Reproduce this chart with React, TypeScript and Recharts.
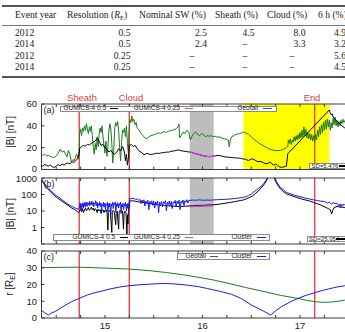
import React from "react";
import { LineChart, Line, XAxis, YAxis, ReferenceLine, ReferenceArea } from "recharts";

type Pt = [number, number];

// ---- table ----
const tableHeaders = ["Event year", "Resolution", "Nominal SW (%)", "Sheath (%)", "Cloud (%)", "6 h (%)"];
const eventYears = ["2012", "2014", "2012", "2014"];
const resolutions = ["0.5", "0.5", "0.25", "0.25"];
const nominalSW = ["2.5", "2.4", null, null];
const sheathErr = ["4.5", null, null, null];
const cloudErr = ["8.0", "3.3", null, null];
const sixHourErr = ["4.9", "3.2", "5.6", "4.5"];

// ---- time axis (days) ----
const xDomain: [number, number] = [14.349, 17.605];
const xTicks = [14.5, 14.75, 15, 15.25, 15.5, 15.75, 16, 16.25, 16.5, 16.75, 17, 17.25, 17.5];
const eventTimes = [14.736, 15.249, 17.151];
const eventLabels = ["Sheath", "Cloud", "End"];
const graySpan: [number, number] = [15.87, 16.115];
const yellowSpan: [number, number] = [16.42, 17.3];

// ---- panel (a): |B| Geotail vs GUMICS ----
const geotailA: Pt[] = [
  [14.34, 13.5], [14.36, 13], [14.38, 14], [14.4, 12.5], [14.42, 13], [14.44, 12], [14.46, 11.5], [14.48, 11],
  [14.5, 12.5], [14.52, 15], [14.54, 18.5], [14.56, 16], [14.58, 17], [14.6, 13], [14.61, 11.4], [14.625, 17.5],
  [14.64, 14], [14.655, 7], [14.67, 9], [14.685, 8], [14.7, 12], [14.71, 14], [14.725, 10], [14.735, 15],
  [14.74, 33], [14.75, 37], [14.76, 31], [14.77, 38], [14.78, 35], [14.79, 40], [14.8, 36], [14.81, 42],
  [14.82, 37], [14.83, 33], [14.84, 39], [14.85, 35], [14.86, 40], [14.87, 31], [14.88, 20], [14.89, 14],
  [14.9, 24], [14.91, 18], [14.92, 30], [14.93, 21], [14.94, 32], [14.95, 38], [14.96, 34], [14.97, 40],
  [14.98, 30], [14.99, 22], [15.0, 15], [15.01, 26], [15.02, 12], [15.03, 20], [15.04, 35], [15.05, 42],
  [15.06, 37], [15.07, 24], [15.08, 6], [15.09, 18], [15.1, 38], [15.11, 43], [15.12, 40], [15.13, 44],
  [15.14, 36], [15.15, 20], [15.16, 8], [15.17, 25], [15.18, 36], [15.19, 34], [15.2, 38], [15.21, 30],
  [15.22, 40], [15.23, 24], [15.24, 15], [15.245, 32], [15.255, 46], [15.265, 43], [15.275, 49], [15.285, 44],
  [15.295, 46], [15.31, 41], [15.32, 43], [15.33, 38], [15.35, 36], [15.37, 33], [15.39, 31], [15.41, 29],
  [15.43, 28], [15.45, 30], [15.47, 31], [15.49, 31.5], [15.51, 32], [15.53, 33], [15.55, 33.5], [15.57, 33],
  [15.59, 34], [15.61, 34.5], [15.63, 34], [15.65, 35], [15.67, 35.5], [15.69, 36], [15.71, 36.5], [15.73, 37.5],
  [15.75, 39], [15.76, 41.5], [15.765, 29], [15.78, 31], [15.8, 34], [15.82, 33], [15.84, 36], [15.86, 34],
  [15.875, 27], [15.89, 30], [15.91, 33], [15.93, 34.5], [15.95, 32], [15.97, 31], [15.99, 33], [16.01, 32],
  [16.03, 30], [16.05, 31], [16.07, 30.5], [16.09, 31], [16.11, 30], [16.13, 30.5], [16.15, 29.5], [16.17, 30],
  [16.19, 29], [16.21, 28.5], [16.23, 28], [16.25, 27.5], [16.265, 27], [16.275, 20.6], [16.285, 27], [16.3, 30],
  [16.32, 31], [16.34, 32], [16.36, 32.5], [16.38, 33], [16.4, 33.5], [16.42, 34.5], [16.44, 33.5], [16.47, 32.5],
  [16.5, 30], [16.53, 27.5], [16.56, 25.5], [16.59, 23.5], [16.62, 22], [16.65, 20.5], [16.68, 19], [16.71, 18],
  [16.74, 17.5], [16.77, 17.3], [16.8, 17.5], [16.83, 18.5], [16.86, 20], [16.875, 21], [16.88, 27], [16.89, 24],
  [16.9, 28], [16.91, 23], [16.92, 27], [16.93, 25], [16.94, 30], [16.95, 26], [16.96, 31], [16.97, 27],
  [16.98, 32], [16.99, 28], [17.0, 34], [17.01, 29], [17.02, 36], [17.03, 30], [17.04, 39], [17.05, 31],
  [17.06, 37], [17.07, 29], [17.08, 34], [17.09, 28], [17.1, 33], [17.11, 27], [17.12, 32], [17.13, 26],
  [17.14, 31], [17.15, 25], [17.16, 32], [17.17, 27], [17.18, 36], [17.19, 30], [17.2, 39], [17.21, 32],
  [17.22, 41], [17.23, 34], [17.24, 43], [17.25, 36], [17.26, 45], [17.27, 37], [17.28, 46], [17.29, 39],
  [17.3, 45], [17.31, 36], [17.32, 43], [17.33, 38], [17.34, 47], [17.35, 41], [17.36, 48], [17.37, 40],
  [17.38, 45], [17.39, 39], [17.4, 44], [17.41, 40], [17.42, 45], [17.43, 42], [17.44, 46], [17.45, 43], [17.46, 45],
];

const gumics05A: Pt[] = [
  [14.34, 2], [14.36, 3], [14.38, 4.5], [14.4, 4], [14.42, 3], [14.44, 4], [14.46, 2.5], [14.48, 2], [14.5, 3],
  [14.52, 4.5], [14.54, 3.5], [14.56, 5], [14.58, 4], [14.6, 5.5], [14.62, 6], [14.64, 5], [14.66, 7], [14.68, 6.5],
  [14.7, 8], [14.72, 10], [14.73, 12], [14.74, 19], [14.76, 21], [14.78, 22], [14.8, 21.5], [14.82, 23], [14.84, 22.5],
  [14.86, 24], [14.88, 25], [14.9, 26], [14.92, 28.5], [14.94, 26], [14.96, 22], [14.98, 23], [15.0, 20], [15.02, 18.5],
  [15.04, 16], [15.06, 17.5], [15.08, 15], [15.1, 14], [15.12, 16], [15.14, 19], [15.16, 17], [15.18, 21], [15.2, 16],
  [15.21, 8], [15.22, 14], [15.23, 4], [15.24, 10], [15.25, 22], [15.27, 23], [15.29, 21], [15.31, 22], [15.33, 19],
  [15.35, 17], [15.37, 16], [15.39, 14], [15.41, 13.5], [15.43, 15], [15.45, 14], [15.47, 13.8], [15.49, 14], [15.51, 14.5],
  [15.53, 15], [15.55, 14.7], [15.57, 15], [15.59, 15.5], [15.61, 15.5], [15.63, 16], [15.65, 15.8], [15.67, 16.5],
  [15.69, 16.8], [15.71, 17], [15.73, 17.5], [15.75, 18], [15.77, 17.5], [15.79, 17], [15.81, 16.8], [15.83, 16.5],
  [15.85, 16.2], [15.87, 16], [15.89, 15.5], [15.91, 15], [15.93, 14.5], [15.95, 14], [15.97, 13.5], [15.99, 13],
  [16.01, 12.5], [16.03, 12.2], [16.05, 12], [16.07, 11.8], [16.09, 12], [16.11, 12.2], [16.13, 12.5], [16.15, 13],
  [16.17, 12.8], [16.19, 12.5], [16.21, 12], [16.23, 11.6], [16.25, 11.4], [16.27, 11.2], [16.29, 11], [16.31, 10.8],
  [16.33, 10.8], [16.35, 10.5], [16.37, 10.5], [16.39, 10.2], [16.41, 9.8], [16.43, 9.5], [16.45, 9], [16.47, 8.3],
  [16.49, 9], [16.51, 9.8], [16.53, 9], [16.55, 8], [16.57, 7], [16.59, 7.5], [16.61, 6.8], [16.63, 6], [16.65, 5.2],
  [16.67, 5.5], [16.69, 6.8], [16.71, 5.5], [16.73, 4], [16.75, 5], [16.77, 3.7], [16.79, 2.5], [16.81, 2], [16.83, 2.3],
  [16.85, 2.8], [16.86, 3], [16.875, 14.5], [17.3, 54.5], [17.31, 52], [17.32, 50], [17.33, 51], [17.34, 48], [17.35, 47],
  [17.37, 45], [17.39, 43], [17.41, 42], [17.43, 40], [17.46, 38],
];

const gumics025A: Pt[] = [
  [15.87, 16], [15.89, 15.6], [15.91, 15.1], [15.93, 14.6], [15.95, 14.2], [15.97, 13.6], [15.99, 13.2], [16.01, 12.7],
  [16.03, 12.3], [16.05, 12.1], [16.07, 11.7], [16.09, 12], [16.11, 12],
];

// ---- panel (b): |B| Cluster vs GUMICS (log) ----
const clusterB: Pt[] = [
  [14.345, 1000], [14.36, 700], [14.38, 460], [14.4, 330], [14.42, 240], [14.44, 180], [14.46, 140], [14.48, 110],
  [14.5, 88], [14.52, 72], [14.54, 60], [14.56, 48], [14.58, 39], [14.6, 32], [14.62, 26], [14.64, 22], [14.66, 19],
  [14.68, 16.5], [14.7, 14.5], [14.72, 13], [14.73, 12.5],
  [14.74, 20], [14.745, 30], [14.75, 14], [14.755, 28], [14.76, 12], [14.765, 25], [14.77, 18], [14.775, 32], [14.78, 15],
  [14.785, 27], [14.79, 20], [14.795, 34], [14.8, 17], [14.805, 29], [14.81, 22], [14.815, 35], [14.82, 19], [14.83, 30],
  [14.835, 24], [14.84, 38], [14.845, 21], [14.85, 32], [14.86, 25], [14.865, 40], [14.87, 22], [14.88, 33], [14.885, 18],
  [14.89, 30], [14.9, 26], [14.905, 42], [14.91, 20], [14.92, 34], [14.925, 15], [14.93, 28], [14.94, 22], [14.945, 36],
  [14.95, 19], [14.96, 30], [14.965, 8], [14.97, 26], [14.98, 20], [14.985, 35], [14.99, 17], [15.0, 30], [15.005, 12],
  [15.01, 27], [15.02, 22], [15.025, 33], [15.03, 10], [15.04, 28], [15.045, 18], [15.05, 31], [15.06, 6], [15.065, 26],
  [15.07, 20], [15.08, 34], [15.085, 14], [15.09, 29], [15.1, 23], [15.105, 36], [15.11, 9], [15.12, 27], [15.125, 19],
  [15.13, 32], [15.14, 15], [15.145, 28], [15.15, 22], [15.16, 35], [15.165, 7], [15.17, 25], [15.18, 18], [15.185, 30],
  [15.19, 12], [15.2, 27], [15.205, 21], [15.21, 33], [15.22, 10], [15.225, 26], [15.23, 16], [15.235, 29], [15.24, 12],
  [15.245, 24], [15.255, 60], [15.265, 52], [15.275, 63], [15.285, 55], [15.3, 58], [15.315, 48], [15.33, 55], [15.345, 44],
  [15.36, 50], [15.37, 28], [15.38, 46], [15.39, 35], [15.4, 48], [15.41, 20], [15.42, 40], [15.43, 30], [15.44, 45],
  [15.45, 12], [15.46, 38], [15.47, 28], [15.48, 42], [15.49, 22], [15.5, 40], [15.51, 15], [15.52, 35], [15.53, 26],
  [15.54, 40], [15.55, 8], [15.56, 33], [15.57, 24], [15.58, 38], [15.59, 18], [15.6, 36], [15.61, 28], [15.62, 42],
  [15.63, 10], [15.64, 34], [15.65, 25], [15.66, 40], [15.67, 20], [15.68, 38], [15.69, 14], [15.7, 36], [15.71, 30],
  [15.72, 44], [15.73, 18], [15.74, 40], [15.75, 28], [15.76, 45], [15.77, 12], [15.78, 38], [15.79, 30], [15.8, 46],
  [15.81, 22], [15.82, 42], [15.83, 34], [15.84, 48], [15.85, 30], [15.86, 45], [15.87, 44], [15.9, 46], [15.93, 45],
  [15.96, 47], [15.99, 46], [16.02, 45], [16.05, 46], [16.08, 45], [16.11, 47], [16.14, 48], [16.17, 49], [16.2, 50],
  [16.23, 51], [16.26, 52], [16.29, 54], [16.32, 56], [16.35, 59], [16.38, 62], [16.41, 66], [16.44, 72], [16.47, 85],
  [16.5, 105], [16.53, 150], [16.56, 200], [16.59, 280], [16.61, 350], [16.63, 480], [16.65, 720], [16.67, 1100],
  [16.68, 1500], [16.73, 1500], [16.74, 1100], [16.76, 600], [16.78, 380], [16.8, 270], [16.83, 190], [16.86, 135],
  [16.9, 110], [16.94, 92], [16.98, 80], [17.02, 70], [17.06, 60], [17.1, 53], [17.14, 47], [17.18, 43], [17.21, 40],
  [17.24, 38], [17.26, 36], [17.28, 30], [17.3, 34], [17.32, 26], [17.34, 32], [17.36, 28], [17.38, 30], [17.4, 20],
  [17.41, 27], [17.42, 18], [17.43, 25], [17.44, 21], [17.45, 26], [17.46, 22],
];

const gumics05B: Pt[] = [
  [14.345, 900], [14.36, 620], [14.38, 400], [14.4, 280], [14.42, 200], [14.44, 150], [14.46, 115], [14.48, 88],
  [14.5, 70], [14.52, 57], [14.54, 47], [14.56, 39], [14.58, 32], [14.6, 27], [14.62, 22], [14.64, 18], [14.66, 15],
  [14.68, 13], [14.7, 11], [14.72, 9], [14.73, 8],
  [14.74, 10], [14.75, 13], [14.76, 9], [14.77, 14], [14.78, 8], [14.79, 12], [14.8, 15], [14.81, 10], [14.82, 13],
  [14.83, 16], [14.84, 11], [14.85, 14], [14.86, 17], [14.87, 12], [14.88, 15], [14.89, 10], [14.9, 14], [14.91, 12],
  [14.92, 8], [14.93, 13], [14.94, 10], [14.95, 12], [14.96, 7], [14.97, 11], [14.98, 12], [14.99, 8], [15.0, 11],
  [15.01, 9], [15.02, 12], [15.03, 0.7], [15.035, 8], [15.045, 11], [15.055, 9], [15.07, 0.5], [15.075, 8], [15.085, 11],
  [15.095, 9], [15.11, 1.5], [15.115, 8], [15.125, 10], [15.14, 0.8], [15.145, 8], [15.155, 11], [15.165, 9],
  [15.18, 10], [15.19, 0.8], [15.195, 7], [15.205, 10], [15.215, 8], [15.225, 0.35], [15.23, 6], [15.235, 1.6],
  [15.24, 8], [15.245, 12],
  [15.255, 40], [15.28, 42], [15.31, 39], [15.34, 36], [15.37, 34], [15.4, 32], [15.43, 30], [15.46, 28], [15.49, 26],
  [15.52, 24.5], [15.55, 23], [15.58, 22], [15.61, 21.5], [15.64, 21], [15.67, 20], [15.7, 19.5], [15.73, 19],
  [15.76, 18.5], [15.79, 19], [15.82, 19.5], [15.85, 20], [15.88, 20.5], [15.91, 21], [15.94, 21.5], [15.97, 22],
  [16.0, 22], [16.03, 22.5], [16.06, 23], [16.09, 23.5], [16.12, 24], [16.15, 25], [16.18, 26.5], [16.21, 28],
  [16.24, 30], [16.27, 32], [16.3, 34], [16.33, 37], [16.36, 40], [16.39, 43], [16.42, 47], [16.45, 55], [16.48, 65],
  [16.51, 80], [16.54, 110], [16.57, 160], [16.6, 240], [16.62, 330], [16.64, 480], [16.66, 750], [16.675, 1100],
  [16.685, 1500], [16.725, 1500], [16.735, 1100], [16.75, 600], [16.77, 380], [16.8, 215], [16.83, 150], [16.86, 110],
  [16.9, 90], [16.94, 75], [16.98, 63], [17.02, 53], [17.06, 46], [17.1, 40], [17.14, 33], [17.18, 27], [17.22, 22],
  [17.26, 17], [17.29, 14], [17.31, 12], [17.325, 6.6], [17.335, 11], [17.35, 16], [17.38, 19], [17.41, 17],
  [17.44, 17], [17.46, 16],
];

const gumics025B: Pt[] = [
  [15.87, 18.5], [15.9, 18.8], [15.93, 19], [15.96, 19.3], [15.99, 19.4], [16.02, 19.8], [16.05, 20], [16.08, 20.3], [16.11, 20.5],
];

// ---- panel (c): radial distance ----
const geotailR: Pt[] = [
  [14.34, 30.0], [14.5, 30.2], [14.65, 30.3], [14.75, 30.3], [14.9, 30.0], [15.05, 29.7], [15.25, 29.2], [15.45, 28.3],
  [15.62, 27.2], [15.8, 25.8], [15.96, 24.3], [16.12, 22.6], [16.3, 20.2], [16.45, 18.1], [16.64, 15.7], [16.8, 13.5],
  [16.98, 11.7], [17.07, 10.5], [17.15, 9.8], [17.22, 9.4], [17.29, 9.4], [17.37, 9.8], [17.46, 10.7],
];

const clusterR: Pt[] = [
  [14.34, 5.0], [14.38, 3.2], [14.42, 1.8], [14.45, 2.9], [14.49, 3.9], [14.55, 6.1], [14.61, 8.2], [14.67, 10.1],
  [14.74, 11.8], [14.82, 13.8], [14.9, 15.2], [14.95, 15.8], [15.05, 17.3], [15.15, 18.5], [15.25, 19.3], [15.35, 19.8],
  [15.46, 20.2], [15.55, 20.5], [15.62, 20.6], [15.7, 20.4], [15.8, 19.9], [15.9, 19.2], [15.96, 18.7], [16.05, 17.6],
  [16.15, 16.3], [16.22, 15.3], [16.3, 14.1], [16.4, 11.6], [16.5, 7.8], [16.6, 4.9], [16.7, 1.8], [16.75, 4.3],
  [16.81, 6.8], [16.9, 9.6], [16.98, 11.7], [17.06, 13.5], [17.15, 15.1], [17.22, 16.3], [17.29, 17.3], [17.37, 18.4], [17.46, 19.3],
];

const FRAME = "#3a3a3a";
const RED = "#e8363b";
const GREEN = "#1d7a1d";
const BLUE = "#1a1af0";
const MAGENTA = "#d63cd6";
const SANS = "'Liberation Sans', Arial, Helvetica, sans-serif";
const SERIF = "'Liberation Serif', 'Times New Roman', serif";

const pts = (arr: Pt[]) => arr.map(([t, v]) => ({ t, v }));

const bottomTick = (labels: boolean) => (p: any) => {
  const v = p.payload.value;
  return (
    <g>
      <line x1={p.x} x2={p.x} y1={p.y} y2={p.y - 3} stroke={FRAME} />
      {labels && Number.isInteger(v) ? (
        <text x={p.x} y={p.y + 11} textAnchor="middle" fontSize={9.5} fill="#222">
          {v}
        </text>
      ) : null}
    </g>
  );
};

const topTick = (p: any) => (
  <line x1={p.x} x2={p.x} y1={p.y} y2={p.y + 3} stroke={FRAME} />
);

// labels at the panel edges sit a little inward so neighbouring panels do not collide
const leftTick = (hidden: number[], nudge: Record<string, number> = {}) => (p: any) => {
  const v = p.payload.value;
  const dy = nudge[String(v)] || 0;
  return (
    <g>
      <line x1={p.x} x2={p.x + 3} y1={p.y} y2={p.y} stroke={FRAME} />
      {hidden.includes(v) ? null : (
        <text x={p.x - 4.5} y={p.y + 3.4 + dy} textAnchor="end" fontSize={9.5} fill="#222">
          {v}
        </text>
      )}
    </g>
  );
};

const lineProps = { dataKey: "v", dot: false, isAnimationActive: false, strokeWidth: 1, type: "linear" as const };

function axes(
  yTicks: number[],
  yDomain: [number, number],
  log: boolean,
  bottomLabels: boolean,
  hidden: number[] = [],
  nudge: Record<string, number> = {}
) {
  return [
    <XAxis
      key="xb"
      xAxisId="b"
      dataKey="t"
      type="number"
      domain={xDomain}
      allowDataOverflow
      ticks={xTicks}
      interval={0}
      tickLine={false}
      tickSize={0}
      tickMargin={0}
      tick={bottomTick(bottomLabels)}
      axisLine={{ stroke: FRAME }}
      height={bottomLabels ? 16 : 6}
    />,
    <XAxis
      key="xt"
      xAxisId="t"
      orientation="top"
      dataKey="t"
      type="number"
      domain={xDomain}
      allowDataOverflow
      ticks={xTicks}
      interval={0}
      tickLine={false}
      tickSize={0}
      tickMargin={0}
      tick={topTick}
      axisLine={{ stroke: FRAME }}
      height={1}
    />,
    <YAxis
      key="y"
      type="number"
      scale={log ? "log" : "linear"}
      domain={yDomain}
      allowDataOverflow
      ticks={yTicks}
      interval={0}
      tickLine={false}
      tickSize={0}
      tickMargin={0}
      tick={leftTick(hidden, nudge)}
      axisLine={{ stroke: FRAME }}
      width={41.5}
    />,
  ];
}

const eventLines = () =>
  eventTimes.map((t) => (
    <ReferenceLine key={t} xAxisId="b" x={t} stroke={RED} strokeWidth={1.3} />
  ));

const CHART_W = 364;
const MARGIN = { top: 5, right: 5, bottom: 0, left: 0 };

function LegendBox({ left, top, width, height, items }: any) {
  return (
    <div
      style={{
        position: "absolute",
        left,
        top,
        width,
        height,
        border: "1px solid #8a8a8a",
        background: "#fff",
        boxSizing: "border-box",
      }}
    >
      {items.map((it: any) => (
        <React.Fragment key={it.label}>
          <div
            style={{
              position: "absolute",
              right: width - it.textRight + left,
              top: -1.6,
              fontSize: 6.5,
              lineHeight: `${height}px`,
              whiteSpace: "nowrap",
              color: "#222",
            }}
          >
            {it.label}
          </div>
          <div
            style={{
              position: "absolute",
              left: it.lineFrom - left - 1,
              width: it.lineTo - it.lineFrom,
              top: height / 2 - 1.5,
              height: 1,
              background: it.color,
            }}
          />
        </React.Fragment>
      ))}
    </div>
  );
}

function SDBox({ left, top, text }: any) {
  return (
    <div
      style={{
        position: "absolute",
        left,
        top,
        width: 50,
        height: 6.5,
        border: "1px solid #8a8a8a",
        background: "#fff",
        boxSizing: "border-box",
      }}
    >
      <div style={{ position: "absolute", left: 1.5, top: -2, fontSize: 6, lineHeight: "8px", color: "#222", whiteSpace: "nowrap" }}>
        {text}
      </div>
      <div style={{ position: "absolute", left: 28.5, width: 12, top: 1.5, height: 1.5, background: "#000" }} />
    </div>
  );
}

function Table() {
  const headerLeft = [15, 67, 139, 215, 267, 318];
  const rowY = [32.3, 43.7, 55.3, 66.7];
  const cols = [resolutions, nominalSW, sheathErr, cloudErr, sixHourErr];
  const colRight = [130.5, 207, 254.5, 305.5, 346];
  const dashCenter = [130, 192, 245, 292, 340];
  const txt = (extra: any, content: any, key: string) => (
    <div
      key={key}
      style={{ position: "absolute", fontSize: 9.6, lineHeight: "11px", whiteSpace: "nowrap", color: "#222", ...extra }}
    >
      {content}
    </div>
  );
  return (
    <div style={{ position: "absolute", left: 0, top: 0, width: 345, height: 80, fontFamily: SERIF }}>
      <div style={{ position: "absolute", left: 2, right: 0, top: 5.2, height: 1.4, background: "#555" }} />
      <div style={{ position: "absolute", left: 2, right: 0, top: 24.5, height: 0.8, background: "#777" }} />
      <div style={{ position: "absolute", left: 2, right: 0, top: 76.4, height: 1.4, background: "#555" }} />
      {tableHeaders.map((h, i) =>
        txt(
          { left: headerLeft[i], top: 9.2 },
          i === 1 ? (
            <span>
              Resolution (<i>R</i>
              <sub style={{ fontSize: 6.5, verticalAlign: "-1.5px" }}>E</sub>)
            </span>
          ) : (
            h
          ),
          "h" + i
        )
      )}
      {eventYears.map((y, r) => txt({ left: 15, top: rowY[r] - 5.5 }, y, "y" + r))}
      {cols.map((col, c) =>
        col.map((v, r) =>
          v
            ? txt({ right: 345 - colRight[c], top: rowY[r] - 5.5 }, v, `c${c}-${r}`)
            : txt({ left: dashCenter[c] - 2.5, top: rowY[r] - 5.5 }, "\u2013", `d${c}-${r}`)
        )
      )}
    </div>
  );
}

export default function App() {
  const rotated = (x: number, y: number, content: any, key: string) => (
    <div
      key={key}
      style={{
        position: "absolute",
        left: x,
        top: y,
        transform: "translate(-50%, -50%) rotate(-90deg)",
        fontSize: 10,
        whiteSpace: "nowrap",
        color: "#222",
      }}
    >
      {content}
    </div>
  );
  const eventLabelX = [82, 131, 312];
  return (
    <div
      style={{
        position: "absolute",
        left: 0,
        top: 0,
        width: 345,
        height: 332,
        overflow: "hidden",
        background: "#fff",
        fontFamily: SANS,
      }}
    >
      <Table />

      {eventLabels.map((l, i) => (
        <div
          key={l}
          style={{
            position: "absolute",
            left: eventLabelX[i],
            top: 97,
            transform: "translate(-50%, -50%)",
            fontSize: 9.4,
            color: RED,
            whiteSpace: "nowrap",
          }}
        >
          {l}
        </div>
      ))}

      {/* panel (a) */}
      <div style={{ position: "absolute", left: 0, top: 98 }}>
        <LineChart width={CHART_W} height={77.5} margin={MARGIN}>
          {axes([0, 20, 40, 60], [0, 60], false, false, [], { "0": -1 })}
          <ReferenceArea xAxisId="b" x1={yellowSpan[0]} x2={yellowSpan[1]} fill="#ffff00" fillOpacity={1} stroke="none" />
          <ReferenceArea xAxisId="b" x1={graySpan[0]} x2={graySpan[1]} fill="#bdbdbd" fillOpacity={1} stroke="none" />
          {eventLines()}
          <Line xAxisId="b" data={pts(geotailA)} stroke={GREEN} {...lineProps} />
          <Line xAxisId="b" data={pts(gumics05A)} stroke="#000" {...lineProps} />
          <Line xAxisId="b" data={pts(gumics025A)} stroke={MAGENTA} {...lineProps} strokeWidth={1.3} />
        </LineChart>
      </div>

      {/* panel (b) */}
      <div style={{ position: "absolute", left: 0, top: 171.5 }}>
        <LineChart width={CHART_W} height={78} margin={MARGIN}>
          {axes([0.1, 1, 10, 100, 1000], [0.1, 1000], true, false, [0.1], { "1000": 1 })}
          <ReferenceArea xAxisId="b" x1={graySpan[0]} x2={graySpan[1]} fill="#bdbdbd" fillOpacity={1} stroke="none" />
          {eventLines()}
          <Line xAxisId="b" data={pts(gumics05B)} stroke="#000" {...lineProps} />
          <Line xAxisId="b" data={pts(clusterB)} stroke={BLUE} {...lineProps} />
          <Line xAxisId="b" data={pts(gumics025B)} stroke={MAGENTA} {...lineProps} strokeWidth={1.3} />
        </LineChart>
      </div>

      {/* panel (c) */}
      <div style={{ position: "absolute", left: 0, top: 245 }}>
        <LineChart width={CHART_W} height={89} margin={MARGIN}>
          {axes([0, 10, 20, 30, 40], [0, 40], false, true)}
          {eventLines()}
          <Line xAxisId="b" data={pts(geotailR)} stroke={GREEN} {...lineProps} />
          <Line xAxisId="b" data={pts(clusterR)} stroke={BLUE} {...lineProps} />
        </LineChart>
      </div>

      {rotated(10, 132, "|B| [nT]", "ya")}
      {rotated(10, 214, "|B| [nT]", "yb")}
      {rotated(
        10,
        284,
        <span>
          r [R<sub style={{ fontSize: 7, verticalAlign: "-2px" }}>E</sub>]
        </span>,
        "yc"
      )}

      {[["(a)", 105], ["(b)", 178.5], ["(c)", 252]].map(([l, y]) => (
        <div key={l as string} style={{ position: "absolute", left: 43.5, top: y as number, fontSize: 9, lineHeight: "10px", color: "#222" }}>
          {l}
        </div>
      ))}

      <LegendBox
        left={60}
        top={105.5}
        width={217}
        height={6.5}
        items={[
          { label: "GUMICS-4 0.5", textRight: 107, lineFrom: 110, lineTo: 118, color: "#000" },
          { label: "GUMICS-4 0.25", textRight: 181, lineFrom: 185, lineTo: 193, color: MAGENTA },
          { label: "Geotail", textRight: 259, lineFrom: 263, lineTo: 272, color: GREEN },
        ]}
      />
      <LegendBox
        left={53}
        top={234}
        width={217}
        height={7}
        items={[
          { label: "GUMICS-4 0.5", textRight: 116, lineFrom: 120, lineTo: 128, color: "#000" },
          { label: "GUMICS-4 0.25", textRight: 181, lineFrom: 185, lineTo: 193, color: MAGENTA },
          { label: "Cluster", textRight: 253, lineFrom: 257, lineTo: 266, color: BLUE },
        ]}
      />
      <LegendBox
        left={177}
        top={252.5}
        width={93}
        height={7.5}
        items={[
          { label: "Geotail", textRight: 207, lineFrom: 210, lineTo: 218, color: GREEN },
          { label: "Cluster", textRight: 253, lineFrom: 257, lineTo: 266, color: BLUE },
        ]}
      />
      <SDBox left={309} top={162.5} text="SD=5.476" />
      <SDBox left={306.5} top={235.5} text="SD=25.054" />
    </div>
  );
}
